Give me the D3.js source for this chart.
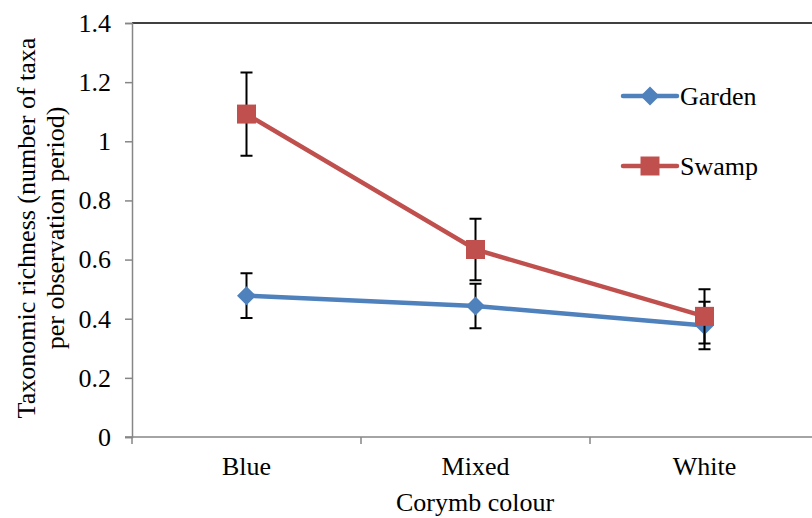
<!DOCTYPE html>
<html>
<head>
<meta charset="utf-8">
<script src="https://cdn.jsdelivr.net/npm/d3@7"></script>
<style>
  body { margin: 0; background: #fff; }
</style>
</head>
<body>
<svg id="chart" width="812" height="518"></svg>
<script>
// Dados
const categories = ["Blue", "Mixed", "White"];
const gardenValues = [0.478, 0.443, 0.377];
const gardenErrors = [0.076, 0.075, 0.080];
const swampValues = [1.092, 0.634, 0.408];
const swampErrors = [0.141, 0.104, 0.092];
const yTicks = [0, 0.2, 0.4, 0.6, 0.8, 1, 1.2, 1.4];

const series = [
  { name: "Garden", color: "#4F81BD", values: gardenValues, errors: gardenErrors, marker: "diamond" },
  { name: "Swamp", color: "#C0504D", values: swampValues, errors: swampErrors, marker: "square" }
];

const fontSize = "26px";
const fontFamily = "Liberation Serif";
const svg = d3.select("#chart");

const x = d3.scaleBand()
  .domain(categories)
  .range([132, 819])
  .padding(0);

const y = d3.scaleLinear()
  .domain([0, 1.4])
  .range([437, 23]);

const cx = d => x(d) + x.bandwidth() / 2;

function styleText(sel) {
  sel.style("font-family", fontFamily)
    .style("font-size", fontSize)
    .attr("fill", "#000");
}

// borda superior da área do gráfico
svg.append("line")
  .attr("x1", 132).attr("x2", 812)
  .attr("y1", y(1.4)).attr("y2", y(1.4))
  .attr("stroke", "#000").attr("stroke-width", 1.5);

// eixo Y
const yAxis = svg.append("g")
  .attr("transform", "translate(132,0)")
  .call(d3.axisLeft(y).tickValues(yTicks).tickSize(7).tickPadding(14)
    .tickFormat(d => d3.format("")(+d.toFixed(1))));
yAxis.attr("font-family", fontFamily);
yAxis.selectAll("path, line").attr("stroke", "#868686").attr("stroke-width", 1.5);
yAxis.selectAll("text").call(styleText);

// eixo X
const xAxis = svg.append("g")
  .attr("transform", "translate(0,437)")
  .call(d3.axisBottom(x).tickSize(0).tickPadding(20));
xAxis.attr("font-family", fontFamily);
xAxis.select(".domain").remove();
xAxis.selectAll("text").call(styleText);

svg.append("line")
  .attr("x1", 125).attr("x2", 812)
  .attr("y1", 437).attr("y2", 437)
  .attr("stroke", "#868686").attr("stroke-width", 1.5);

svg.selectAll(".xtick")
  .data(categories)
  .enter()
  .append("line")
  .attr("x1", d => x(d)).attr("x2", d => x(d))
  .attr("y1", 437).attr("y2", 444)
  .attr("stroke", "#868686").attr("stroke-width", 1.5);

// títulos dos eixos
svg.append("text")
  .attr("x", 475).attr("y", 511)
  .attr("text-anchor", "middle")
  .call(styleText)
  .text("Corymb colour");

const yTitle = svg.append("g").attr("transform", "translate(0,228)");
yTitle.append("text")
  .attr("transform", "translate(35,0) rotate(-90)")
  .attr("text-anchor", "middle")
  .call(styleText)
  .text("Taxonomic richness (number of taxa");
yTitle.append("text")
  .attr("transform", "translate(64,0) rotate(-90)")
  .attr("text-anchor", "middle")
  .call(styleText)
  .text("per observation period)");

const line = d3.line()
  .x(d => cx(d.cat))
  .y(d => y(d.v));

const diamond = s => `M0,${-s} L${s},0 L0,${s} L${-s},0 Z`;
const square = s => `M${-s},${-s} H${s} V${s} H${-s} Z`;

function drawMarker(g, type, color) {
  g.append("path")
    .attr("d", type === "diamond" ? diamond(9.5) : square(9.5))
    .attr("fill", color);
}

series.forEach(s => {
  const pts = categories.map((c, i) => ({ cat: c, v: s.values[i], e: s.errors[i] }));
  const g = svg.append("g");

  // barras de erro
  g.selectAll(".err")
    .data(pts)
    .enter()
    .append("path")
    .attr("d", d => {
      const xc = cx(d.cat), top = y(d.v + d.e), bot = y(d.v - d.e);
      return `M${xc},${top} V${bot} M${xc - 6},${top} H${xc + 6} M${xc - 6},${bot} H${xc + 6}`;
    })
    .attr("stroke", "#000").attr("stroke-width", 2).attr("fill", "none");

  g.append("path")
    .datum(pts)
    .attr("d", line)
    .attr("stroke", s.color)
    .attr("stroke-width", 4.5)
    .attr("fill", "none");

  pts.forEach(d => {
    const m = g.append("g").attr("transform", `translate(${cx(d.cat)},${y(d.v)})`);
    drawMarker(m, s.marker, s.color);
  });
});

// legenda
const legend = svg.append("g");
series.forEach((s, i) => {
  const ly = 96 + i * 70;
  const lg = legend.append("g").attr("transform", `translate(0,${ly})`);
  lg.append("line")
    .attr("x1", 623).attr("x2", 677)
    .attr("y1", 0).attr("y2", 0)
    .attr("stroke", s.color).attr("stroke-width", 4.5)
    .attr("stroke-linecap", "round");
  const m = lg.append("g").attr("transform", "translate(650,0)");
  drawMarker(m, s.marker, s.color);
  lg.append("text")
    .attr("x", 680).attr("y", 9)
    .call(styleText)
    .text(s.name);
});
</script>
</body>
</html>
